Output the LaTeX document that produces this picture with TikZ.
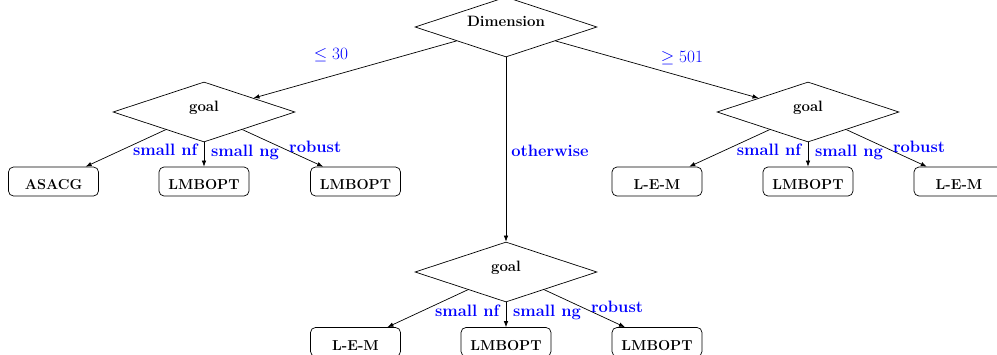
\documentclass[tikz,border=0pt]{standalone}
\usepackage{fontspec}
\usetikzlibrary{shapes.geometric,arrows.meta}
\begin{document}
\begin{tikzpicture}[x=1pt,y=-1pt,line width=0.7pt,
  dec/.style={draw, diamond, aspect=3, minimum width=182pt, minimum height=60pt, inner sep=0pt,
    font=\fontsize{15}{18}\selectfont\bfseries, text height=4pt, text depth=4pt},
  leaf/.style={draw, rounded corners=5pt, minimum width=90pt, minimum height=29pt, inner sep=2pt,
    font=\fontsize{14.4}{17}\selectfont\bfseries, text height=16.5pt, text depth=0pt},
  arr/.style={-{Latex[length=6pt,width=4.5pt]}},
  lbl/.style={text=blue, font=\fontsize{16.5}{20}\selectfont\bfseries, inner sep=0pt},
  cond/.style={text=blue, font=\fontsize{16.5}{20}\selectfont, inner sep=0pt}]
\useasboundingbox (0,0) rectangle (997,355);
% decision nodes
\node[dec] (dim) at (506,27) {Dimension};
\node[dec] (g1) at (204,112) {goal};
\node[dec] (g2) at (808,112) {goal};
\node[dec] (g3) at (506,272) {goal};
% leaves
\node[leaf] (a1) at (53.5,181.5) {ASACG};
\node[leaf] (a2) at (204,181.5) {LMBOPT};
\node[leaf] (a3) at (355.5,181.5) {LMBOPT};
\node[leaf] (b1) at (657,181.5) {L-E-M};
\node[leaf] (b2) at (808,181.5) {LMBOPT};
\node[leaf] (b3) at (959,181.5) {L-E-M};
\node[leaf] (c1) at (355.5,342) {L-E-M};
\node[leaf] (c2) at (506,342) {LMBOPT};
\node[leaf] (c3) at (657,342) {LMBOPT};
% edges from root
\draw[arr] (dim) -- node[cond, xshift=-24pt, yshift=14.5pt] {$\leq 30$} (g1);
\draw[arr] (dim) -- node[cond, xshift=25pt, yshift=11.5pt] {$\geq 501$} (g2);
\draw[arr] (dim) -- node[lbl, xshift=44pt, yshift=-1.5pt] {otherwise} (g3);
% edges from goal nodes
\draw[arr] (g1) -- node[lbl, xshift=39.5pt, yshift=-2pt] {small nf} (a1);
\draw[arr] (g1) -- node[lbl, xshift=41pt, yshift=2pt] {small ng} (a2);
\draw[arr] (g1) -- node[lbl, xshift=32.5pt, yshift=1.7pt] {robust} (a3);
\draw[arr] (g2) -- node[lbl, xshift=39.5pt, yshift=-2pt] {small nf} (b1);
\draw[arr] (g2) -- node[lbl, xshift=41pt, yshift=2pt] {small ng} (b2);
\draw[arr] (g2) -- node[lbl, xshift=32.5pt, yshift=1.7pt] {robust} (b3);
\draw[arr] (g3) -- node[lbl, xshift=39.5pt, yshift=-2pt] {small nf} (c1);
\draw[arr] (g3) -- node[lbl, xshift=41pt, yshift=2pt] {small ng} (c2);
\draw[arr] (g3) -- node[lbl, xshift=32.5pt, yshift=1.7pt] {robust} (c3);
\end{tikzpicture}
\end{document}
